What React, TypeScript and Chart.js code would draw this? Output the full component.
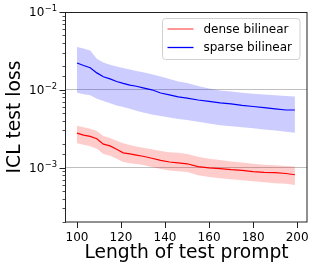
import React, { useEffect, useRef } from 'react';
import { Chart, registerables } from 'chart.js';

Chart.register(...registerables);

// ---- data ----
const lengths = [100, 103, 106, 109, 112, 115, 118, 121, 124, 127, 130, 134, 138, 142, 146, 150, 155, 160, 165, 170, 175, 180, 185, 190, 195, 199];

const sparseMean = [0.0221, 0.0205, 0.0192, 0.0165, 0.0147, 0.0138, 0.0128, 0.0121, 0.0115, 0.0111, 0.0106, 0.0100, 0.0091, 0.0086, 0.0081, 0.0078, 0.0074, 0.0071, 0.0068, 0.0066, 0.0063, 0.0061, 0.0059, 0.0057, 0.0055, 0.0055];
const sparseUpper = [0.0355, 0.0340, 0.0320, 0.0250, 0.0225, 0.0210, 0.0200, 0.0190, 0.0182, 0.0175, 0.0168, 0.0158, 0.0148, 0.0138, 0.0128, 0.0122, 0.0112, 0.0104, 0.0098, 0.0095, 0.0092, 0.0089, 0.0087, 0.0085, 0.0083, 0.0082];
const sparseLower = [0.0092, 0.0088, 0.0085, 0.0077, 0.0072, 0.0067, 0.0063, 0.0060, 0.0057, 0.0054, 0.0051, 0.0048, 0.0046, 0.0044, 0.0042, 0.0041, 0.0039, 0.0037, 0.0035, 0.0034, 0.0033, 0.0032, 0.0031, 0.0030, 0.0029, 0.0028];

const denseMean = [0.00277, 0.00262, 0.00252, 0.00235, 0.00200, 0.00190, 0.00172, 0.00155, 0.00150, 0.00145, 0.00140, 0.00132, 0.00124, 0.00118, 0.00115, 0.00112, 0.00103, 0.00099, 0.00097, 0.00094, 0.00092, 0.00089, 0.00087, 0.00086, 0.00084, 0.00081];
const denseUpper = [0.00345, 0.00330, 0.00315, 0.00295, 0.00255, 0.00240, 0.00222, 0.00205, 0.00195, 0.00187, 0.00180, 0.00172, 0.00163, 0.00158, 0.00155, 0.00150, 0.00138, 0.00130, 0.00125, 0.00120, 0.00116, 0.00112, 0.00109, 0.00107, 0.00105, 0.00103];
const denseLower = [0.00206, 0.00197, 0.00188, 0.00175, 0.00150, 0.00142, 0.00130, 0.00118, 0.00114, 0.00111, 0.00108, 0.00102, 0.00096, 0.00092, 0.00090, 0.00088, 0.00080, 0.00076, 0.00073, 0.00071, 0.00069, 0.00067, 0.00065, 0.00063, 0.00062, 0.00060];

const xTicks = [100, 120, 140, 160, 180, 200];
const yDecadeExponents = [-3, -2, -1];
const seriesNames = ['dense bilinear', 'sparse bilinear'];
const xTitle = 'Length of test prompt';
const yTitle = 'ICL test loss';

const FONT = '"DejaVu Sans", sans-serif';

const pts = (arr: number[]) => lengths.map((x, i) => ({ x, y: arr[i] }));
const isDecade = (v: number | undefined) => {
  if (v === undefined || v <= 0) return false;
  const l = Math.log10(v);
  return Math.abs(l - Math.round(l)) < 1e-6;
};

const decorPlugin = {
  id: 'decor',
  afterDraw(chart: any) {
    const { ctx, chartArea: a } = chart;
    const y = chart.scales.y;
    ctx.save();
    // y tick marks (major + minor)
    ctx.strokeStyle = '#222';
    for (const t of y.ticks) {
      const p = Math.round(y.getPixelForValue(t.value)) + 0.5;
      if (p < a.top - 1 || p > a.bottom + 1) continue;
      const major = isDecade(t.value);
      ctx.lineWidth = major ? 1 : 0.8;
      ctx.beginPath();
      ctx.moveTo(a.left - (major ? 6.5 : 3.5), p);
      ctx.lineTo(a.left, p);
      ctx.stroke();
    }
    // y tick labels 10^e
    ctx.fillStyle = '#000';
    ctx.textBaseline = 'alphabetic';
    for (const e of yDecadeExponents) {
      const p = y.getPixelForValue(Math.pow(10, e));
      const sup = '\u2212' + Math.abs(e);
      ctx.font = `8.4px ${FONT}`;
      const sw = ctx.measureText(sup).width;
      const right = a.left - 9;
      ctx.textAlign = 'left';
      ctx.fillText(sup, right - sw, p - 0.8);
      ctx.font = `12px ${FONT}`;
      ctx.textAlign = 'right';
      ctx.fillText('10', right - sw - 0.3, p + 4.3);
    }
    // frame
    ctx.strokeStyle = '#222';
    ctx.lineWidth = 1;
    ctx.strokeRect(Math.round(a.left) - 0.5, Math.round(a.top) + 0.5, Math.round(a.right - a.left) + 0.5, Math.round(a.bottom - a.top) - 0.5);
    // legend
    const bx = a.right - 144.5;
    const by = a.top + 6.5;
    const bw = 137.5;
    const bh = 41;
    ctx.beginPath();
    (ctx as any).roundRect(bx, by, bw, bh, 3);
    ctx.fillStyle = 'rgba(255,255,255,0.85)';
    ctx.fill();
    ctx.strokeStyle = '#d0d0d0';
    ctx.lineWidth = 1;
    ctx.stroke();
    const colors = ['rgb(255,95,95)', 'rgb(0,0,255)'];
    seriesNames.forEach((name, i) => {
      const ly = by + 10.5 + i * 18.5;
      ctx.strokeStyle = colors[i];
      ctx.lineWidth = 1.3;
      ctx.beginPath();
      ctx.moveTo(bx + 5, ly);
      ctx.lineTo(bx + 31, ly);
      ctx.stroke();
      ctx.fillStyle = '#000';
      ctx.font = `12px ${FONT}`;
      ctx.textAlign = 'left';
      ctx.textBaseline = 'middle';
      ctx.fillText(name, bx + 41, ly + 0.5);
    });
    ctx.restore();
  },
};

export default function App() {
  const ref = useRef<HTMLCanvasElement | null>(null);
  useEffect(() => {
    document.body.style.margin = '0';
    const canvas = ref.current;
    if (!canvas) return;
    const line = (label: string, arr: number[], color: string) => ({
      label, data: pts(arr), borderColor: color, borderWidth: 1.2, pointRadius: 0, fill: false, tension: 0,
    });
    const band = (label: string, arr: number[], fill: any, bg: string) => ({
      label, data: pts(arr), borderColor: 'rgba(0,0,0,0)', borderWidth: 0, pointRadius: 0, fill, backgroundColor: bg, tension: 0,
    });
    const chart = new Chart(canvas, {
      type: 'line',
      data: {
        datasets: [
          line(seriesNames[0], denseMean, 'rgb(255,0,0)'),
          line(seriesNames[1], sparseMean, 'rgb(0,0,255)'),
          band('dense upper', denseUpper, '+1', 'rgba(255,0,0,0.2)'),
          band('dense lower', denseLower, false, 'rgba(0,0,0,0)'),
          band('sparse upper', sparseUpper, '+1', 'rgba(0,0,255,0.2)'),
          band('sparse lower', sparseLower, false, 'rgba(0,0,0,0)'),
        ] as any,
      },
      options: {
        animation: false,
        responsive: false,
        devicePixelRatio: 1,
        layout: { padding: { top: 12, right: 10, left: 0, bottom: 0 } },
        plugins: { legend: { display: false }, tooltip: { enabled: false } },
        scales: {
          x: {
            type: 'linear',
            min: 95,
            max: 204.5,
            afterBuildTicks: (s: any) => { s.ticks = xTicks.map((v) => ({ value: v })); },
            afterFit: (s: any) => { s.height = 50; },
            ticks: { font: { family: FONT, size: 12 }, color: '#000', padding: 3, maxRotation: 0, autoSkip: false },
            grid: { drawOnChartArea: false, drawTicks: true, tickLength: 6, tickColor: '#222', tickWidth: 1 },
            border: { display: false },
            title: { display: true, text: xTitle, font: { family: FONT, size: 18.7 }, color: '#000', padding: { top: 0, bottom: 7.5 } },
          },
          y: {
            type: 'logarithmic',
            min: 2e-4,
            max: 0.1,
            afterFit: (s: any) => { s.width = 66; },
            ticks: { display: false },
            grid: {
              color: (c: any) => (isDecade(c.tick?.value) ? '#b8b8b8' : 'rgba(0,0,0,0)'),
              lineWidth: 0.9,
              drawTicks: false,
            },
            border: { display: false },
            title: { display: true, text: yTitle, font: { family: FONT, size: 18.7 }, color: '#000', padding: { top: 4, bottom: 0 } },
          },
        },
      } as any,
      plugins: [decorPlugin],
    });
    return () => chart.destroy();
  }, []);
  return <canvas ref={ref} width={317} height={272} style={{ display: 'block' }} />;
}
